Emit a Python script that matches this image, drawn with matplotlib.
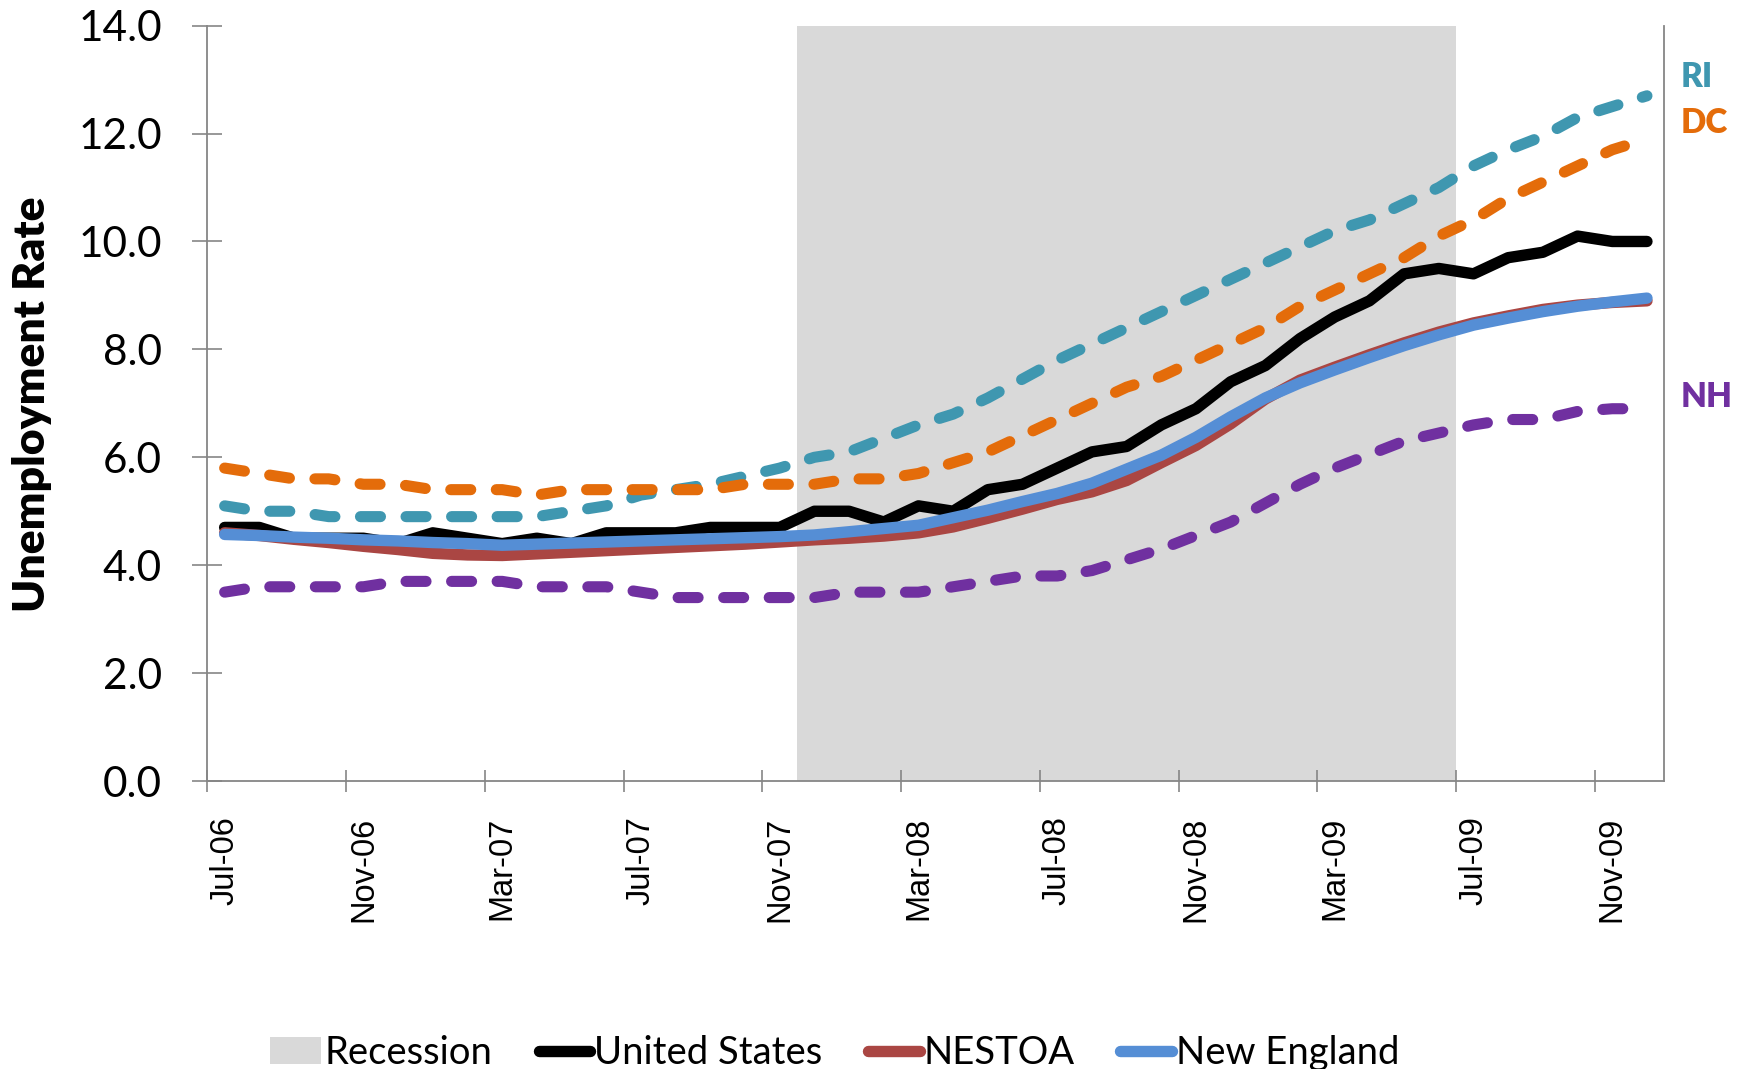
import matplotlib
matplotlib.use("Agg")
import matplotlib.pyplot as plt
from matplotlib.lines import Line2D
from matplotlib.patches import Patch

# monthly categories Jul-06 .. Dec-09
months = ["Jul-06", "Aug-06", "Sep-06", "Oct-06", "Nov-06", "Dec-06",
          "Jan-07", "Feb-07", "Mar-07", "Apr-07", "May-07", "Jun-07",
          "Jul-07", "Aug-07", "Sep-07", "Oct-07", "Nov-07", "Dec-07",
          "Jan-08", "Feb-08", "Mar-08", "Apr-08", "May-08", "Jun-08",
          "Jul-08", "Aug-08", "Sep-08", "Oct-08", "Nov-08", "Dec-08",
          "Jan-09", "Feb-09", "Mar-09", "Apr-09", "May-09", "Jun-09",
          "Jul-09", "Aug-09", "Sep-09", "Oct-09", "Nov-09", "Dec-09"]

# recession shading (column series, full height Dec-07 .. Jun-09)
recession = [0, 0, 0, 0, 0, 0, 0, 0, 0, 0, 0, 0, 0, 0, 0, 0, 0,
             14, 14, 14, 14, 14, 14, 14, 14, 14, 14, 14, 14, 14, 14, 14, 14, 14, 14, 14,
             0, 0, 0, 0, 0, 0]

us = [4.7, 4.7, 4.5, 4.5, 4.5, 4.4, 4.6, 4.5, 4.4, 4.5, 4.4, 4.6,
      4.6, 4.6, 4.7, 4.7, 4.7, 5.0, 5.0, 4.8, 5.1, 5.0, 5.4, 5.5,
      5.8, 6.1, 6.2, 6.6, 6.9, 7.4, 7.7, 8.2, 8.6, 8.9, 9.4, 9.5,
      9.4, 9.7, 9.8, 10.1, 10.0, 10.0]

nestoa = [4.60, 4.55, 4.48, 4.42, 4.35, 4.29, 4.22, 4.19, 4.18, 4.21, 4.24, 4.27,
          4.30, 4.33, 4.36, 4.39, 4.43, 4.47, 4.50, 4.54, 4.60, 4.71, 4.87, 5.04,
          5.22, 5.36, 5.57, 5.90, 6.22, 6.62, 7.08, 7.43, 7.67, 7.90, 8.12, 8.32,
          8.49, 8.62, 8.74, 8.82, 8.87, 8.90]

new_england = [4.57, 4.55, 4.52, 4.50, 4.47, 4.45, 4.42, 4.40, 4.37, 4.39, 4.41, 4.43,
               4.45, 4.47, 4.49, 4.51, 4.53, 4.56, 4.62, 4.68, 4.74, 4.88, 5.02, 5.18,
               5.33, 5.52, 5.78, 6.04, 6.37, 6.75, 7.10, 7.38, 7.62, 7.85, 8.07, 8.27,
               8.45, 8.58, 8.70, 8.80, 8.88, 8.95]

ri = [5.1, 5.0, 5.0, 4.9, 4.9, 4.9, 4.9, 4.9, 4.9, 4.9, 5.0, 5.1,
      5.3, 5.4, 5.5, 5.65, 5.8, 6.0, 6.1, 6.35, 6.6, 6.8, 7.1, 7.45,
      7.8, 8.1, 8.4, 8.7, 9.0, 9.3, 9.6, 9.9, 10.2, 10.4, 10.7, 11.0,
      11.4, 11.7, 11.95, 12.3, 12.5, 12.7]

dc = [5.8, 5.7, 5.6, 5.6, 5.5, 5.5, 5.4, 5.4, 5.4, 5.3, 5.4, 5.4,
      5.4, 5.4, 5.4, 5.5, 5.5, 5.5, 5.6, 5.6, 5.7, 5.9, 6.1, 6.4,
      6.7, 7.0, 7.3, 7.5, 7.8, 8.1, 8.4, 8.8, 9.1, 9.4, 9.7, 10.1,
      10.4, 10.8, 11.1, 11.4, 11.7, 11.9]

nh = [3.5, 3.6, 3.6, 3.6, 3.6, 3.7, 3.7, 3.7, 3.7, 3.6, 3.6, 3.6,
      3.5, 3.4, 3.4, 3.4, 3.4, 3.4, 3.5, 3.5, 3.5, 3.6, 3.7, 3.8,
      3.8, 3.9, 4.1, 4.3, 4.55, 4.8, 5.15, 5.5, 5.8, 6.05, 6.3, 6.45,
      6.6, 6.7, 6.7, 6.85, 6.9, 6.9]

yticks = [0, 2, 4, 6, 8, 10, 12, 14]

GRAY = "#868686"
C_US, C_NESTOA, C_NE = "black", "#AA4643", "#558ED5"
C_RI, C_DC, C_NH = "#3F97B0", "#E46C0A", "#7030A0"
LW = 8.2

fig = plt.figure(figsize=(17.42, 10.69), dpi=100)
ax = fig.add_axes([0.1190, 0.2694, 0.8364, 0.7066])

x = list(range(len(months)))
ax.bar(x, recession, width=1.0, color="#D9D9D9", linewidth=0, zorder=1)

solid = dict(solid_capstyle="round", solid_joinstyle="round", zorder=3)
dashed = dict(dashes=(1.8, 2.3), dash_capstyle="round", dash_joinstyle="round", zorder=4)
ax.plot(x, us, color=C_US, lw=LW, **solid)
ax.plot(x, nestoa, color=C_NESTOA, lw=LW, **solid)
ax.plot(x, new_england, color=C_NE, lw=LW, **solid)
ax.plot(x, ri, color=C_RI, lw=8.0, **dashed)
ax.plot(x, dc, color=C_DC, lw=8.0, **dashed)
ax.plot(x, nh, color=C_NH, lw=8.0, **dashed)

ax.set_xlim(-0.5, len(months) - 0.5)
ax.set_ylim(0, 14)

# ticks at category boundaries, labels at category centres
ax.set_xticks([b - 0.5 for b in range(0, len(months), 4)])
ax.set_xticklabels([])
ax.set_xticks(x[::4], minor=True)
ax.set_xticklabels(months[::4], minor=True, rotation=90, va="top", ha="center",
                   family="Liberation Sans", fontsize=23.5)
ax.tick_params(axis="x", which="major", direction="inout", length=15.8, width=1.2, color=GRAY)
ax.tick_params(axis="x", which="minor", length=0, pad=25.5)

ax.set_yticks(yticks)
ax.set_yticklabels([f"{v:.1f}" for v in yticks], family="Lato", fontsize=30.5)
ax.tick_params(axis="y", direction="inout", length=21.6, width=1.2, color=GRAY, pad=22)

for side in ("left", "bottom", "right"):
    ax.spines[side].set_color(GRAY)
    ax.spines[side].set_linewidth(1.3)
ax.spines["top"].set_visible(False)

fig.text(32 / 1742, 0.622, "Unemployment Rate", rotation=90, ha="center", va="center",
         family="Lato", fontweight="heavy", fontsize=32)

# series labels to the right of the plot
tr = ax.get_yaxis_transform()
for name, yv, col in (("RI", 13.04, C_RI), ("DC", 12.2, C_DC), ("NH", 7.11, C_NH)):
    ax.text(1.011, yv, name, transform=tr, ha="left", va="center", color=col,
            family="Lato", fontweight="heavy", fontsize=24, clip_on=False)

handles = [Patch(facecolor="#D9D9D9", edgecolor="none"),
           Line2D([], [], color=C_US, lw=LW, solid_capstyle="round"),
           Line2D([], [], color=C_NESTOA, lw=LW, solid_capstyle="round"),
           Line2D([], [], color=C_NE, lw=LW, solid_capstyle="round")]
fig.legend(handles, ["Recession", "United States", "NESTOA", "New England"],
           loc="center", bbox_to_anchor=(0.479, 0.015), ncol=4, frameon=False,
           prop={"family": "Lato", "size": 27.5}, handlelength=1.35, handletextpad=0.1,
           columnspacing=1.2, borderaxespad=0)

fig.savefig("out.png", dpi=100)
